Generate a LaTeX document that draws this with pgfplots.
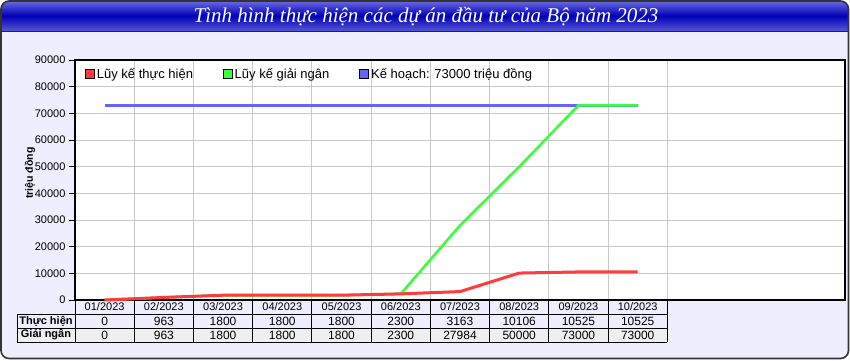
\documentclass[border=0pt]{standalone}
\usepackage{fontspec}
\setmainfont{Liberation Sans}
\newfontfamily\titlefont{Liberation Serif}
\usepackage{pgfplots}
\pgfplotsset{compat=1.18}
\definecolor{lav}{HTML}{EEEEFF}
\definecolor{tgray}{HTML}{EFEFEF}
\definecolor{tbtop}{HTML}{7070E4}
\definecolor{tbmid}{HTML}{0000B8}
\definecolor{tbbot}{HTML}{5A5AD6}
\definecolor{sred}{HTML}{FF3B3B}
\definecolor{sgreen}{HTML}{3CFF3C}
\definecolor{sblue}{HTML}{6464FF}
\definecolor{gridc}{HTML}{C8C8C8}
\begin{document}
\begin{tikzpicture}[x=1pt,y=1pt]
\useasboundingbox (0,0) rectangle (850,360);
\fill[lav, rounded corners=8pt] (1,1.5) rectangle (848.5,359);
\begin{scope}
\clip[rounded corners=8pt] (1,1.5) rectangle (848.5,359);
\shade[top color=tbtop, bottom color=tbbot, middle color=tbmid] (0,328.5) rectangle (850,360);
\end{scope}
\draw[black!85, line width=0.8pt] (1,328.5) -- (848.5,328.5);
\draw[black!80, line width=1.6pt, rounded corners=8pt] (1,1.5) rectangle (848.5,359);
\node[text=white, font=\titlefont\itshape\fontsize{21}{25}\selectfont] at (426,343) {Tình hình thực hiện các dự án đầu tư của Bộ năm 2023};
\node[rotate=90, font=\bfseries\fontsize{10.5}{12}\selectfont] at (30,187) {triệu đồng};
\begin{axis}[
  at={(75pt,60pt)}, anchor=south west, scale only axis,
  width=770pt, height=240pt,
  xmin=-0.5, xmax=12.5, ymin=0, ymax=90000,
  xtick={0.5,1.5,...,9.5}, xticklabels={},
  ytick={0,10000,...,90000},
  xmajorgrids, ymajorgrids,
  grid style={gridc, line width=0.9pt},
  axis line style={black, line width=1.2pt},
  axis background/.style={fill=white},
  xtick style={draw=none},
  ytick style={black, line width=0.8pt},
  ytick pos=left, tick align=outside, major tick length=6pt,
  scaled y ticks=false,
  yticklabel style={font=\fontsize{11}{13}\selectfont, /pgf/number format/.cd, fixed, 1000 sep={}, assume math mode=true},
  clip=false,
  legend style={font=\fontsize{13}{15}\selectfont, draw=none, fill=none,
    at={(0,1)}, anchor=north west, xshift=7pt, yshift=-4pt,
    legend columns=3, /tikz/every even column/.append style={column sep=28pt}},
  legend image code/.code={\draw[#1, draw=black, line width=0.7pt] (0pt,-4.5pt) rectangle (9pt,4.5pt);},
]
\addlegendimage{fill=sred}
\addlegendentry{Lũy kế thực hiện}
\addlegendimage{fill=sgreen}
\addlegendentry{Lũy kế giải ngân}
\addlegendimage{fill=sblue}
\addlegendentry{Kế hoạch: 73000 triệu đồng}
\addplot[forget plot, sblue, line width=3pt] coordinates {(0,73000)(1,73000)(2,73000)(3,73000)(4,73000)(5,73000)(6,73000)(7,73000)(8,73000)(9,73000)};
\addplot[forget plot, sgreen, line width=2.6pt] coordinates {(0,0)(1,963)(2,1800)(3,1800)(4,1800)(5,2300)(6,27984)(7,50000)(8,73000)(9,73000)};
\addplot[forget plot, sred, line width=3pt] coordinates {(0,0)(1,963)(2,1800)(3,1800)(4,1800)(5,2300)(6,3163)(7,10106)(8,10525)(9,10525)};
\end{axis}
% data table
\fill[tgray] (17,18) rectangle (667,32);
\draw[black, line width=1pt] (17,46) -- (667,46) (17,32) -- (667,32) (17,18) -- (667,18) (17,46) -- (17,18);
\foreach \k in {0,...,10} \draw[black, line width=1pt] ({75+59.23*\k},60) -- ({75+59.23*\k},18);
\node[font=\bfseries\fontsize{11}{13}\selectfont] at (46,39) {Thực hiện};
\node[font=\bfseries\fontsize{11}{13}\selectfont] at (46,25) {Giải ngân};
\foreach \i/\m/\a/\b in {0/01/0/0,1/02/963/963,2/03/1800/1800,3/04/1800/1800,4/05/1800/1800,5/06/2300/2300,6/07/3163/27984,7/08/10106/50000,8/09/10525/73000,9/10/10525/73000}{
  \node[font=\fontsize{11}{13}\selectfont] at ({75+59.23*(\i+0.5)},53) {\m/2023};
  \node[font=\fontsize{12}{13}\selectfont] at ({75+59.23*(\i+0.5)},39) {\a};
  \node[font=\fontsize{12}{13}\selectfont] at ({75+59.23*(\i+0.5)},25) {\b};
}
\end{tikzpicture}
\end{document}
